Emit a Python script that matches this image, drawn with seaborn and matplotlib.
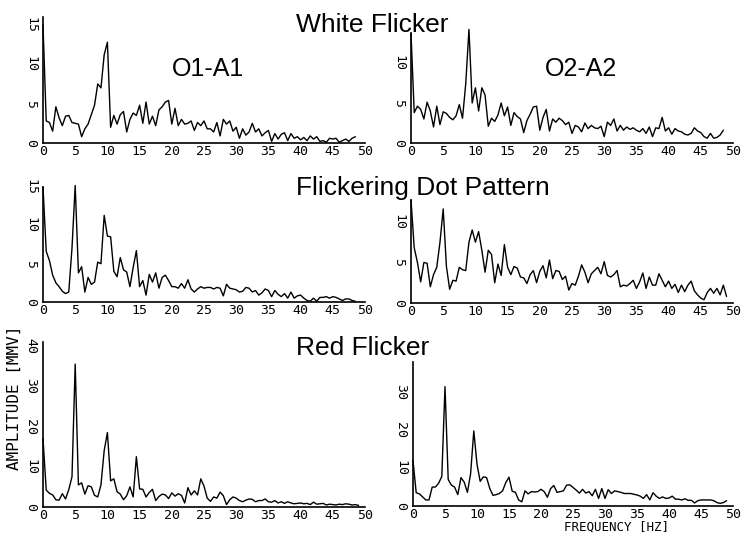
import numpy as np
import pandas as pd
import matplotlib
matplotlib.use("Agg")
import matplotlib.pyplot as plt
import seaborn as sns

# ---------------- data (amplitude spectra, 0.5 Hz resolution) ----------------
FREQ_STEP = 0.5
x_ticks = [0, 5, 10, 15, 20, 25, 30, 35, 40, 45, 50]
x_ticklabels = ["0", "5", "10", "15", "20", "25", "30", "35", "40", "45", "50"]

rows = ["White Flicker", "Flickering Dot Pattern", "Red Flicker"]
leads = ["O1-A1", "O2-A2"]

white_o1 = [15, 2.8, 2.6, 1.5, 4.6, 3.2, 2.2, 3.4, 3.5, 2.6,
            2.5, 2.4, 0.8, 1.8, 2.4, 3.6, 4.8, 7.5, 7.0, 11.2,
            12.8, 2.0, 3.5, 2.4, 3.6, 4.0, 1.4, 3.0, 3.8, 3.5,
            4.8, 2.5, 5.2, 2.4, 3.4, 2.2, 4.2, 4.6, 5.2, 5.4,
            2.4, 4.4, 2.2, 3.0, 2.4, 2.5, 2.8, 1.6, 2.6, 2.2,
            2.8, 1.8, 1.8, 1.4, 2.6, 0.9, 3.0, 2.4, 2.8, 1.5,
            2.0, 0.6, 1.8, 1.0, 1.4, 2.5, 1.4, 1.8, 0.9, 1.3,
            1.6, 0.2, 1.2, 0.5, 1.1, 1.3, 0.3, 1.2, 0.6, 0.8,
            0.4, 0.7, 0.3, 0.9, 0.5, 0.8, 0.2, 0.3, 0.1, 0.6,
            0.5, 0.6, 0.1, 0.3, 0.5, 0.2, 0.6, 0.8]

white_o2 = [13.7, 3.8, 4.6, 4.2, 3.0, 5.1, 4.0, 2.0, 4.6, 2.3,
            3.9, 3.7, 3.2, 2.9, 3.4, 4.8, 3.1, 7.4, 14.2, 5.0,
            6.9, 4.0, 6.9, 6.0, 2.1, 3.1, 2.7, 3.5, 5.0, 3.4,
            4.5, 2.2, 3.8, 3.3, 3.0, 1.3, 2.8, 3.6, 4.5, 4.6,
            1.6, 3.2, 4.2, 1.5, 3.0, 2.6, 3.1, 2.8, 2.3, 2.6,
            1.2, 2.2, 2.0, 1.4, 2.5, 1.8, 2.2, 1.9, 1.8, 2.1,
            0.8, 2.6, 2.2, 3.0, 1.5, 2.2, 1.6, 2.0, 1.7, 1.9,
            1.6, 1.4, 1.8, 1.2, 2.0, 0.8, 1.9, 1.8, 3.2, 1.5,
            1.9, 1.1, 1.8, 1.5, 1.4, 1.1, 1.0, 1.2, 1.9, 1.5,
            1.3, 0.8, 0.6, 1.2, 0.6, 0.7, 1.0, 1.6]

dot_o1 = [15.0, 6.6, 5.4, 3.5, 2.5, 2.0, 1.4, 1.1, 1.3, 7.0,
          15.2, 3.8, 4.6, 1.3, 3.2, 2.3, 2.6, 5.2, 5.0, 11.3,
          8.6, 8.5, 4.0, 3.3, 5.8, 4.2, 3.9, 2.0, 4.5, 6.7,
          2.0, 2.8, 0.9, 3.6, 2.6, 3.8, 1.8, 3.2, 3.5, 2.8,
          2.0, 2.0, 1.8, 2.4, 1.8, 2.9, 1.7, 1.3, 1.7, 2.0,
          1.8, 1.9, 1.9, 1.7, 1.9, 1.8, 0.8, 2.3, 1.8, 1.7,
          1.6, 1.3, 1.4, 1.9, 1.8, 1.3, 1.5, 0.9, 1.2, 1.7,
          1.5, 0.7, 1.5, 1.0, 0.7, 1.1, 0.5, 1.3, 0.5, 0.8,
          0.9, 0.5, 0.2, 0.1, 0.5, 0.1, 0.6, 0.6, 0.7, 0.5,
          0.7, 0.6, 0.4, 0.2, 0.4, 0.4, 0.2, 0.1]

dot_o2 = [12.7, 6.8, 5.0, 2.6, 5.0, 4.9, 2.0, 3.5, 4.4, 7.5,
          11.6, 4.5, 1.7, 2.8, 2.7, 4.4, 4.1, 4.0, 7.5, 9.0,
          7.5, 8.8, 6.5, 3.8, 6.5, 6.0, 2.5, 4.8, 3.4, 7.2,
          4.4, 3.5, 4.5, 4.3, 3.2, 3.1, 2.4, 3.5, 4.0, 2.5,
          3.9, 4.6, 3.1, 5.3, 3.0, 4.0, 3.9, 2.9, 3.3, 1.6,
          2.4, 2.2, 3.3, 4.7, 3.8, 2.5, 3.6, 4.0, 4.4, 3.6,
          5.1, 3.4, 3.2, 3.5, 4.0, 2.0, 2.2, 2.1, 2.4, 2.8,
          1.8, 2.6, 3.7, 1.8, 3.2, 2.2, 2.2, 3.6, 2.8, 2.0,
          2.7, 1.8, 2.3, 1.3, 2.2, 1.4, 2.2, 2.7, 1.5, 1.0,
          0.6, 0.4, 1.3, 1.8, 1.2, 1.8, 1.0, 2.2, 0.8]

red_o1 = [17.0, 4.2, 3.4, 3.0, 1.8, 1.7, 3.3, 2.0, 4.3, 7.5,
          35.5, 5.5, 6.0, 3.2, 5.3, 5.0, 2.9, 2.5, 5.5, 14.0,
          18.5, 6.5, 7.0, 3.8, 3.2, 1.8, 2.8, 5.0, 2.5, 12.5,
          4.5, 4.4, 2.5, 3.6, 4.4, 1.6, 2.6, 3.2, 3.0, 2.1,
          3.5, 2.7, 3.3, 2.9, 1.0, 4.8, 3.0, 4.0, 3.0, 7.0,
          5.2, 2.2, 1.4, 2.5, 2.2, 3.7, 2.8, 0.6, 1.8, 2.5,
          2.2, 1.6, 1.3, 1.7, 2.0, 1.9, 1.3, 1.6, 1.6, 2.0,
          1.3, 1.2, 1.6, 1.0, 1.3, 0.9, 1.3, 1.0, 0.8, 0.9,
          1.0, 0.8, 0.9, 0.6, 1.2, 0.7, 0.8, 0.9, 0.5, 0.7,
          0.6, 0.5, 0.7, 0.6, 0.8, 0.7, 0.5, 0.6, 0.4]

red_o2 = [12.0, 3.5, 3.2, 2.4, 1.6, 1.6, 5.0, 5.0, 6.0, 7.8,
          31.5, 7.0, 5.5, 5.0, 3.0, 7.5, 6.3, 3.6, 8.5, 19.8,
          11.0, 6.5, 7.7, 7.5, 4.6, 2.8, 3.0, 3.3, 4.0, 6.2,
          7.6, 3.9, 3.6, 1.6, 1.1, 4.0, 3.2, 3.8, 3.7, 3.8,
          4.4, 3.8, 2.3, 4.6, 5.4, 3.6, 3.8, 4.0, 5.5, 5.6,
          4.9, 4.2, 3.4, 4.4, 3.4, 3.8, 2.7, 4.4, 2.0, 4.6,
          2.0, 4.3, 3.3, 4.0, 3.8, 3.6, 3.3, 3.3, 3.3, 3.1,
          2.9, 2.6, 2.0, 3.0, 1.6, 3.5, 2.6, 2.0, 2.4, 2.0,
          2.1, 2.6, 1.8, 1.8, 1.6, 1.9, 1.5, 1.5, 0.8, 1.4,
          1.6, 1.6, 1.6, 1.6, 1.4, 0.9, 0.7, 0.9, 1.4]

series = [[white_o1, white_o2], [dot_o1, dot_o2], [red_o1, red_o2]]
y_ticks = [[[0, 5, 10, 15], [0, 5, 10]],
           [[0, 5, 10, 15], [0, 5, 10]],
           [[0, 10, 20, 30, 40], [0, 10, 20, 30]]]
y_tops = [[16.0, 13.75], [15.0, 12.7], [41.0, 38.0]]

# ---------------- figure ----------------
sns.set_style("white")
plt.rcParams["font.family"] = ["DejaVu Sans Mono", "DejaVu Sans"]
plt.rcParams["text.color"] = "black"

W, H = 744, 538
fig = plt.figure(figsize=(W / 100, H / 100), dpi=100)

# axes rectangles in pixels: (left, right, baseline, top)
rects = [[(43, 365, 143, 17), (411, 733, 143, 33)],
         [(43, 365, 302, 187), (411, 733, 303, 200)],
         [(43, 365, 507, 342), (413, 733, 506, 362)]]

for r in range(3):
    for c in range(2):
        l, rr, b, t = rects[r][c]
        ax = fig.add_axes([l / W, 1 - b / H, (rr - l) / W, (b - t) / H])
        vals = series[r][c]
        df = pd.DataFrame({"freq": np.arange(len(vals)) * FREQ_STEP, "amp": vals})
        sns.lineplot(data=df, x="freq", y="amp", ax=ax, color="black",
                     linewidth=1.0, clip_on=False)
        ax.set_xlim(0, 50)
        ax.set_ylim(0, y_tops[r][c])
        ax.set_xticks(x_ticks)
        ax.set_xticklabels(x_ticklabels, fontsize=9.5)
        ax.set_yticks(y_ticks[r][c])
        ax.set_yticklabels([str(v) for v in y_ticks[r][c]], rotation=-90,
                           va="center", fontsize=9.5)
        ax.tick_params(axis="x", length=0, pad=1.5, colors="black")
        ax.tick_params(axis="y", length=0, pad=4, colors="black")
        ax.set_xlabel("")
        ax.set_ylabel("")
        for s in ["top", "right"]:
            ax.spines[s].set_visible(False)
        for s in ["left", "bottom"]:
            ax.spines[s].set_color("black")
            ax.spines[s].set_linewidth(1.2)
        ax.set_facecolor("none")

title_font = ["Liberation Sans", "DejaVu Sans"]
for txt, yb in zip(rows, [32, 195, 355]):
    fig.text(296 / W, 1 - yb / H, txt, ha="left", va="baseline",
             fontsize=19, family=title_font, color="black")

fig.text(208 / W, 1 - 76 / H, leads[0], ha="center", va="baseline",
         fontsize=18, family=title_font, color="black")
fig.text(581 / W, 1 - 76 / H, leads[1], ha="center", va="baseline",
         fontsize=18, family=title_font, color="black")

fig.text(14 / W, 1 - 398 / H, "AMPLITUDE [MMV]", rotation=90,
         ha="center", va="center", fontsize=11.5, color="black")
fig.text(617 / W, 1 - 527 / H, "FREQUENCY [HZ]", ha="center", va="center",
         fontsize=9, color="black")

fig.savefig("out.png", dpi=100, facecolor="white")
